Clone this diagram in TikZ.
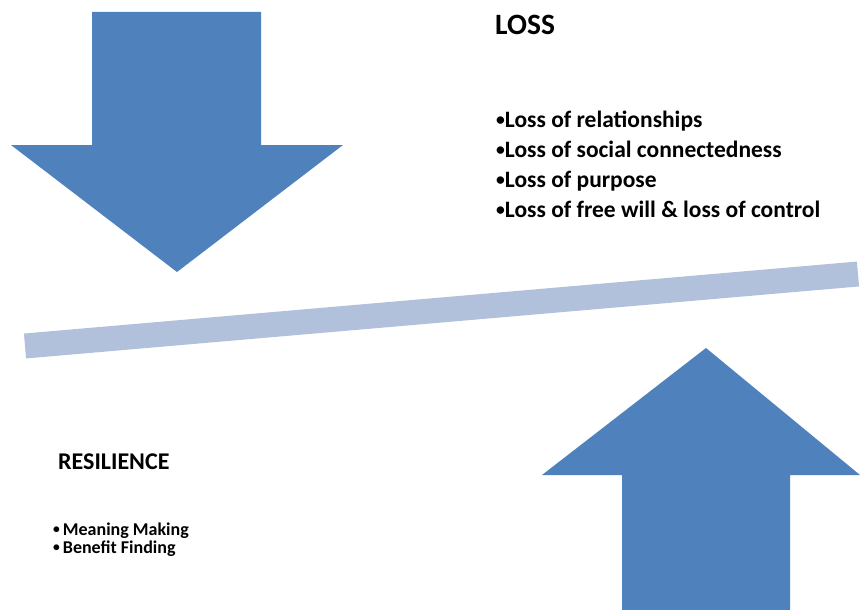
\documentclass[tikz,border=0pt]{standalone}
\usepackage{fontspec}
\usepackage{graphicx}
\setmainfont{Carlito}
\definecolor{arrowblue}{HTML}{4F81BD}
\definecolor{barblue}{HTML}{B2C1DB}
\newcommand{\blt}{\raisebox{0.08em}{\scalebox{0.75}{•}}}
\begin{document}
\begin{tikzpicture}[x=1pt,y=-1pt,
  bigarrow/.style={fill=arrowblue,draw=none},
  beam/.style={draw=barblue,line width=25pt,line cap=butt},
  head/.style={anchor=base west,inner sep=0pt,font=\bfseries\fontsize{29.5}{34}\selectfont},
  item/.style={anchor=base west,inner sep=0pt,font=\bfseries\fontsize{23.5}{27}\selectfont},
  rhead/.style={anchor=base west,inner sep=0pt,font=\bfseries\fontsize{24}{28}\selectfont},
  ritem/.style={anchor=base west,inner sep=0pt,font=\bfseries\fontsize{18}{21}\selectfont}]
\useasboundingbox (0,0) rectangle (860,610);
% down arrow
\fill[bigarrow] (92,12) -- (261,12) -- (261,145) -- (343,145) -- (177,272) -- (11,145) -- (92,145) -- cycle;
% up arrow
\fill[bigarrow] (706,348) -- (860,475) -- (790,475) -- (790,610) -- (622,610) -- (622,475) -- (542,475) -- cycle;
% beam
\coordinate (bl) at (25,346);
\coordinate (br) at (858,274);
\draw[beam] (bl) -- (br);
% texts
\node[head] (loss) at (495,35) {LOSS};
\node[item] (l1) at (496,127) {\blt Loss of relationships};
\node[item] (l2) at (496,157) {\blt Loss of social connectedness};
\node[item] (l3) at (496,187) {\blt Loss of purpose};
\node[item] (l4) at (496,217) {\blt Loss of free will \& loss of control};
\node[rhead] (res) at (58,469) {RESILIENCE};
\node[ritem] (r1) at (53,535) {\blt\,Meaning Making};
\node[ritem] (r2) at (53,553) {\blt\,Benefit Finding};
\end{tikzpicture}
\end{document}
